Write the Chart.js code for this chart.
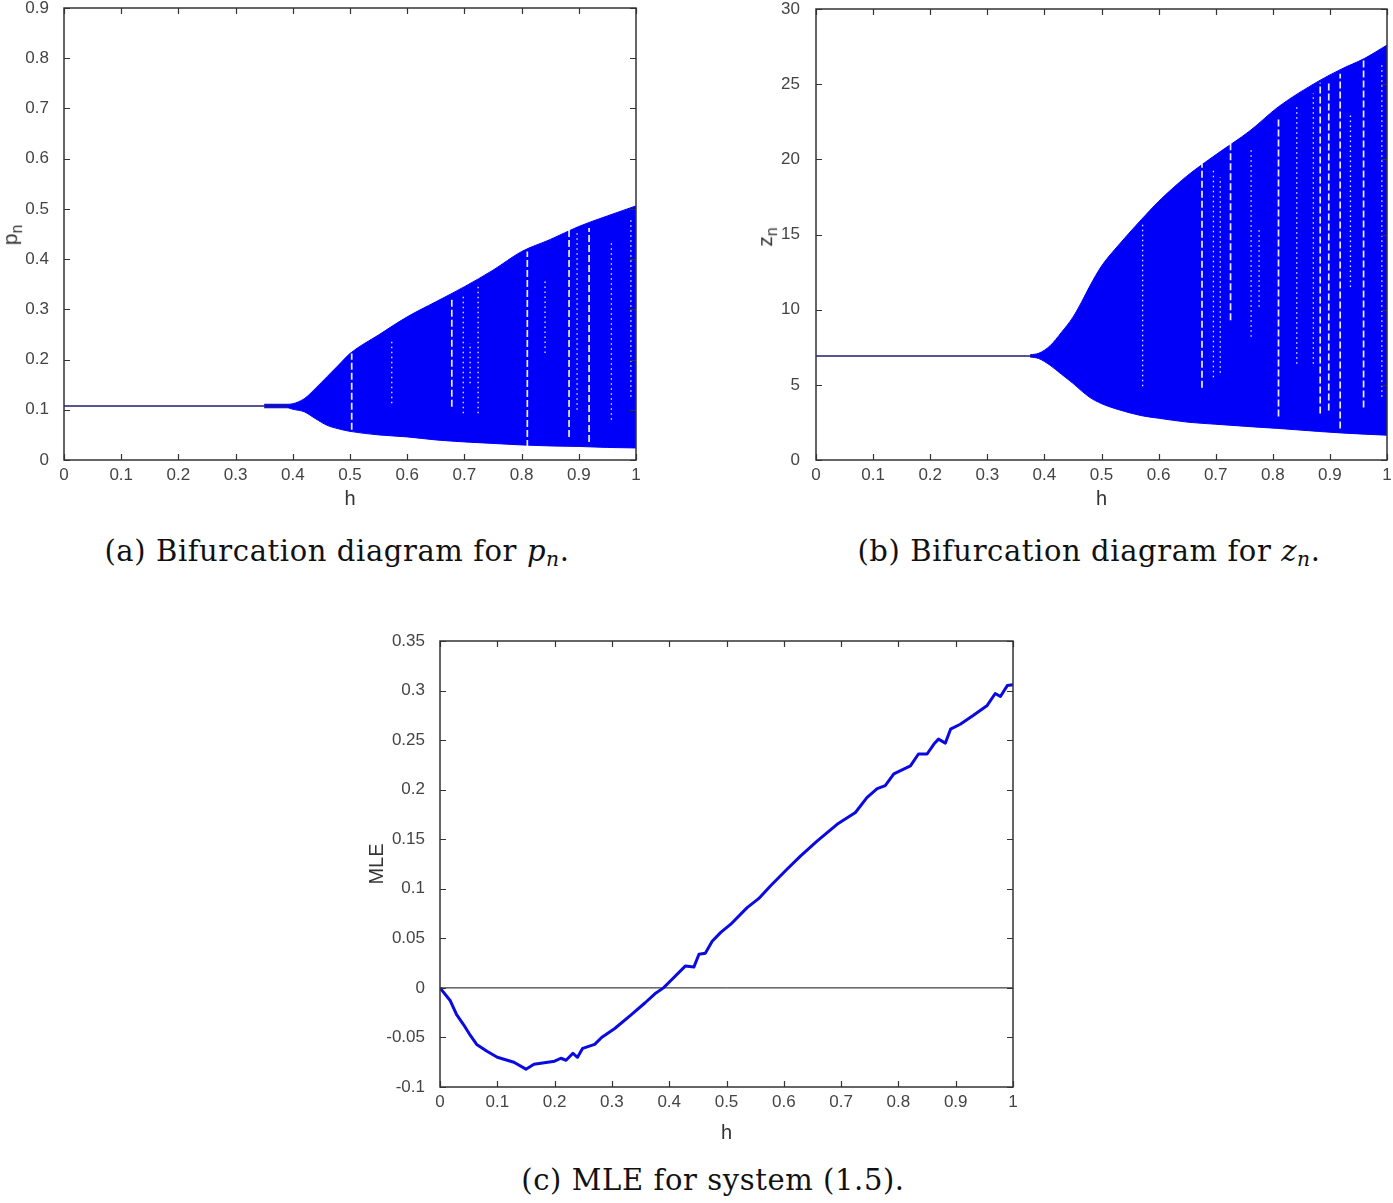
<!DOCTYPE html>
<html>
<head>
<meta charset="utf-8">
<script src="https://cdn.jsdelivr.net/npm/chart.js@4.4.0/dist/chart.umd.min.js"></script>
<style>
  body { margin: 0; background: #fff; width: 1393px; height: 1203px; position: relative; overflow: hidden; }
  canvas { position: absolute; }
  .caption { position: absolute; font-family: 'DejaVu Serif', serif; font-size: 29px; letter-spacing: 0.6px; line-height: 1; white-space: nowrap; transform: translateX(-50%); color: #111; }
  .caption sub { font-size: 70%; vertical-align: -0.25em; }
  .ytitle { position: absolute; font-family: 'Liberation Sans', Arial, sans-serif; font-size: 21px; color: #333; white-space: nowrap; transform: translate(-50%, -50%) rotate(-90deg); }
  .ytitle sub { font-size: 75%; vertical-align: -0.3em; }
</style>
</head>
<body>
<canvas id="chart-p" width="650" height="515" style="left:0;top:0"></canvas>
<canvas id="chart-z" width="643" height="515" style="left:750px;top:0"></canvas>
<canvas id="chart-mle" width="680" height="530" style="left:360px;top:620px"></canvas>

<div class="ytitle" style="left:12px;top:235px">p<sub>n</sub></div>
<div class="ytitle" style="left:767px;top:237px">z<sub>n</sub></div>

<div class="caption" style="left:337px;top:537px">(a) Bifurcation diagram for <i>p</i><sub><i>n</i></sub>.</div>
<div class="caption" style="left:1089px;top:537px">(b) Bifurcation diagram for <i>z</i><sub><i>n</i></sub>.</div>
<div class="caption" style="left:713px;top:1166px">(c) MLE for system (1.5).</div>

<script>
// tick values / labels
const hTicks = [0, 0.1, 0.2, 0.3, 0.4, 0.5, 0.6, 0.7, 0.8, 0.9, 1];
const hTickLabels = ['0', '0.1', '0.2', '0.3', '0.4', '0.5', '0.6', '0.7', '0.8', '0.9', '1'];
const pTicks = [0, 0.1, 0.2, 0.3, 0.4, 0.5, 0.6, 0.7, 0.8, 0.9];
const pTickLabels = ['0', '0.1', '0.2', '0.3', '0.4', '0.5', '0.6', '0.7', '0.8', '0.9'];
const zTicks = [0, 5, 10, 15, 20, 25, 30];
const zTickLabels = ['0', '5', '10', '15', '20', '25', '30'];
const mleTicks = [-0.1, -0.05, 0, 0.05, 0.1, 0.15, 0.2, 0.25, 0.3, 0.35];
const mleTickLabels = ['-0.1', '-0.05', '0', '0.05', '0.1', '0.15', '0.2', '0.25', '0.3', '0.35'];

// (a) p_n: fixed point then chaotic band (envelope)
const pFixedH = [0, 0.39];
const pFixed = [0.1075, 0.1075];
const pBandH = [0.35, 0.39, 0.40, 0.42, 0.44, 0.46, 0.48, 0.5, 0.55, 0.6, 0.65, 0.7, 0.75, 0.8, 0.85, 0.9, 0.95, 1.0];
const pUpper = [0.111, 0.111, 0.112, 0.122, 0.143, 0.166, 0.189, 0.212, 0.249, 0.285, 0.315, 0.345, 0.378, 0.415, 0.439, 0.465, 0.486, 0.506];
const pLower = [0.104, 0.104, 0.101, 0.096, 0.082, 0.069, 0.062, 0.057, 0.050, 0.046, 0.040, 0.036, 0.033, 0.030, 0.028, 0.027, 0.025, 0.024];
// periodic windows (white streaks inside the band)
const pGapH  = [0.503, 0.573, 0.678, 0.698, 0.71, 0.724, 0.81, 0.841, 0.883, 0.897, 0.918, 0.957, 0.991];
const pGapLo = [0.060, 0.113, 0.106, 0.093, 0.153, 0.093, 0.026, 0.213, 0.046, 0.100, 0.036, 0.080, 0.126];
const pGapHi = [0.212, 0.239, 0.325, 0.332, 0.233, 0.345, 0.415, 0.358, 0.458, 0.458, 0.462, 0.438, 0.484];
const pGapKind = ['dash', 'dot', 'dash', 'dot', 'dot', 'dot', 'dash', 'dot', 'dash', 'dot', 'dash', 'dot', 'dot'];

// (b) z_n
const zFixedH = [0, 0.38];
const zFixed = [6.92, 6.92];
const zBandH = [0.375, 0.39, 0.41, 0.43, 0.45, 0.465, 0.48, 0.5, 0.53, 0.57, 0.6, 0.65, 0.7, 0.76, 0.81, 0.88, 0.92, 0.96, 1.0];
const zUpper = [7.0, 7.1, 7.6, 8.5, 9.5, 10.5, 11.6, 12.9, 14.3, 16.0, 17.2, 18.9, 20.3, 21.9, 23.5, 25.2, 26.0, 26.7, 27.6];
const zLower = [6.85, 6.75, 6.3, 5.7, 5.1, 4.6, 4.15, 3.75, 3.35, 2.95, 2.78, 2.52, 2.38, 2.22, 2.1, 1.9, 1.8, 1.72, 1.65];
const zGapH  = [0.572, 0.676, 0.696, 0.708, 0.726, 0.762, 0.776, 0.81, 0.842, 0.871, 0.883, 0.898, 0.918, 0.936, 0.959, 0.991];
const zGapLo = [4.9, 4.8, 5.5, 5.8, 9.3, 8.2, 10.2, 2.9, 6.4, 6.4, 3.1, 3.3, 2.1, 11.5, 3.5, 4.2];
const zGapHi = [15.7, 19.7, 19.3, 18.8, 21.1, 20.6, 15.5, 22.8, 23.5, 24.4, 25.1, 25.1, 25.7, 23.1, 26.8, 26.4];
const zGapKind = ['dot', 'dash', 'dot', 'dot', 'dash', 'dot', 'dot', 'dash', 'dot', 'dot', 'dash', 'dash', 'dash', 'dot', 'dash', 'dot'];

// (c) maximal Lyapunov exponent
const mleH = [0.0, 0.018, 0.029, 0.041, 0.053, 0.064, 0.082, 0.1, 0.129, 0.15, 0.164, 0.188, 0.2, 0.211, 0.22, 0.232, 0.24, 0.249, 0.27, 0.282,
  0.305, 0.334, 0.358, 0.375, 0.39, 0.402, 0.428, 0.443, 0.452, 0.463, 0.475, 0.49, 0.507, 0.536, 0.556, 0.577, 0.606, 0.629, 0.658, 0.693,
  0.725, 0.745, 0.763, 0.777, 0.792, 0.821, 0.835, 0.85, 0.862, 0.87, 0.882, 0.891, 0.908, 0.931, 0.955, 0.969, 0.978, 0.99, 1.0];
const mle = [0.0, -0.013, -0.027, -0.037, -0.048, -0.057, -0.064, -0.070, -0.075, -0.082, -0.077, -0.075, -0.074, -0.071, -0.073, -0.066, -0.070, -0.061, -0.057, -0.050,
  -0.041, -0.027, -0.015, -0.006, 0.0, 0.007, 0.022, 0.021, 0.034, 0.035, 0.047, 0.056, 0.064, 0.081, 0.090, 0.103, 0.120, 0.133, 0.148, 0.165,
  0.177, 0.192, 0.201, 0.204, 0.216, 0.224, 0.236, 0.236, 0.246, 0.251, 0.247, 0.261, 0.266, 0.275, 0.285, 0.297, 0.294, 0.305, 0.306];
const zeroH = [0, 1];
const zeroLine = [0, 0];

const BLUE = '#0000fa';
const TICK_FONT = { family: "'Liberation Sans', Arial, sans-serif", size: 17 };
const TICK_COLOR = '#444';

const pts = (xs, ys) => xs.map((x, i) => ({ x: x, y: ys[i] }));

// MATLAB-style box with inward ticks on all four sides
const boxPlugin = {
  id: 'matlabBox',
  afterDatasetsDraw(chart) {
    const { ctx, chartArea: a, scales } = chart;
    const x = scales.x, y = scales.y;
    ctx.save();
    ctx.strokeStyle = '#333';
    ctx.lineWidth = 1.5;
    ctx.strokeRect(a.left, a.top, a.width, a.height);
    ctx.beginPath();
    x.ticks.forEach(t => {
      const px = Math.round(x.getPixelForValue(t.value)) + 0.5;
      ctx.moveTo(px, a.bottom); ctx.lineTo(px, a.bottom - 6);
      ctx.moveTo(px, a.top); ctx.lineTo(px, a.top + 6);
    });
    y.ticks.forEach(t => {
      const py = Math.round(y.getPixelForValue(t.value)) + 0.5;
      ctx.moveTo(a.left, py); ctx.lineTo(a.left + 6, py);
      ctx.moveTo(a.right, py); ctx.lineTo(a.right - 6, py);
    });
    ctx.lineWidth = 1.2;
    ctx.stroke();
    ctx.restore();
  }
};

function axis(min, max, values, labels, fit, pad, extra) {
  return Object.assign({
    type: 'linear',
    min: min,
    max: max,
    grid: { display: false },
    border: { display: false },
    afterBuildTicks: s => { s.ticks = values.map(v => ({ value: v })); },
    afterFit: fit,
    ticks: { autoSkip: false, maxRotation: 0, padding: pad, color: TICK_COLOR, font: TICK_FONT, callback: (v, i) => labels[i] }
  }, extra);
}

function gapSets(hs, lo, hi, kinds) {
  return hs.map((h, i) => ({
    data: pts([h, h], [lo[i], hi[i]]),
    borderColor: 'rgba(255,255,255,0.92)',
    borderWidth: kinds[i] === 'dash' ? 1.7 : 1.3,
    borderDash: kinds[i] === 'dash' ? [7, 3] : [1.5, 3.5],
    cubicInterpolationMode: 'default',
    order: 0
  }));
}

const hTitle = pad => ({ display: true, text: 'h', color: '#333', font: { family: TICK_FONT.family, size: 20 }, padding: { top: 0, bottom: pad } });

function bifurcation(id, fixedH, fixed, bandH, upper, lower, gapH, gapLo, gapHi, gapKind, yMin, yMax, yTicks, yLabels, box) {
  return new Chart(document.getElementById(id), {
    type: 'line',
    data: {
      datasets: [
        { data: pts(bandH, lower), borderColor: BLUE, borderWidth: 1, backgroundColor: BLUE, fill: false, cubicInterpolationMode: 'monotone', order: 2 },
        { data: pts(bandH, upper), borderColor: BLUE, borderWidth: 1, backgroundColor: BLUE, fill: 0, cubicInterpolationMode: 'monotone', order: 2 },
        { data: pts(fixedH, fixed), borderColor: '#1c1c6a', borderWidth: 1.6, fill: false, order: 1 }
      ].concat(gapSets(gapH, gapLo, gapHi, gapKind))
    },
    options: {
      responsive: false,
      animation: false,
      events: [],
      elements: { point: { radius: 0 }, line: { tension: 0 } },
      layout: { padding: { left: 0, top: box.top, right: box.right, bottom: 0 } },
      plugins: { legend: { display: false }, tooltip: { enabled: false } },
      scales: {
        x: axis(0, 1, hTicks, hTickLabels, s => { s.height = box.xh; s.paddingLeft = 0; s.paddingRight = 0; }, -3, { title: hTitle(box.titlePad) }),
        y: axis(yMin, yMax, yTicks, yLabels, s => { s.width = box.yw; s.paddingTop = 0; s.paddingBottom = 0; }, box.yPad)
      }
    },
    plugins: [boxPlugin]
  });
}

bifurcation('chart-p', pFixedH, pFixed, pBandH, pUpper, pLower, pGapH, pGapLo, pGapHi, pGapKind,
  0, 0.9, pTicks, pTickLabels, { top: 8, right: 14, xh: 55, yw: 64, titlePad: 4, yPad: 7 });

bifurcation('chart-z', zFixedH, zFixed, zBandH, zUpper, zLower, zGapH, zGapLo, zGapHi, zGapKind,
  0, 30, zTicks, zTickLabels, { top: 9, right: 6, xh: 55, yw: 66, titlePad: 4, yPad: 8 });

new Chart(document.getElementById('chart-mle'), {
  type: 'line',
  data: {
    datasets: [
      { data: pts(mleH, mle), borderColor: '#0a0ae0', borderWidth: 3, fill: false, order: 0 },
      { data: pts(zeroH, zeroLine), borderColor: '#111', borderWidth: 1, fill: false, order: 1 }
    ]
  },
  options: {
    responsive: false,
    animation: false,
    events: [],
    elements: { point: { radius: 0 }, line: { tension: 0, borderJoinStyle: 'round' } },
    layout: { padding: { left: 0, top: 21, right: 27, bottom: 0 } },
    plugins: { legend: { display: false }, tooltip: { enabled: false } },
    scales: {
      x: axis(0, 1, hTicks, hTickLabels, s => { s.height = 63; s.paddingLeft = 0; s.paddingRight = 0; }, -3, { title: hTitle(5) }),
      y: axis(-0.1, 0.35, mleTicks, mleTickLabels, s => { s.width = 80; s.paddingTop = 0; s.paddingBottom = 0; }, 7, {
        title: { display: true, text: 'MLE', color: '#333', font: { family: TICK_FONT.family, size: 20 }, padding: { top: 5, bottom: 0 } }
      })
    }
  },
  plugins: [boxPlugin]
});
</script>
</body>
</html>
